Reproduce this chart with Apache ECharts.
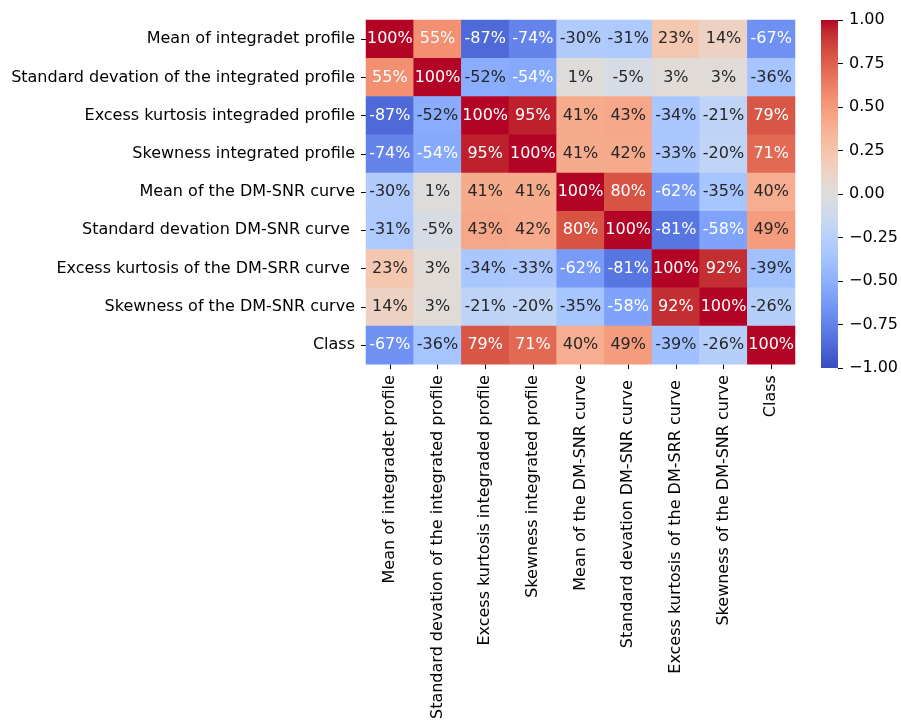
<!DOCTYPE html>
<html>
<head>
<meta charset="utf-8">
<script src="https://cdn.jsdelivr.net/npm/echarts@6/dist/echarts.min.js"></script>
<style>
  html, body { margin: 0; padding: 0; background: #fff; }
  #chart { width: 901px; height: 722px; }
</style>
</head>
<body>
<div id="chart"></div>
<script>
// Feature names (rows top-to-bottom, columns left-to-right)
const features = [
  'Mean of integradet profile',
  'Standard devation of the integrated profile',
  'Excess kurtosis integraded profile',
  'Skewness integrated profile',
  'Mean of the DM-SNR curve',
  'Standard devation DM-SNR curve ',
  'Excess kurtosis of the DM-SRR curve ',
  'Skewness of the DM-SNR curve',
  'Class'
];

// Pairwise correlation, in percent
const corrRow0 = [100, 55, -87, -74, -30, -31, 23, 14, -67];
const corrRow1 = [55, 100, -52, -54, 1, -5, 3, 3, -36];
const corrRow2 = [-87, -52, 100, 95, 41, 43, -34, -21, 79];
const corrRow3 = [-74, -54, 95, 100, 41, 42, -33, -20, 71];
const corrRow4 = [-30, 1, 41, 41, 100, 80, -62, -35, 40];
const corrRow5 = [-31, -5, 43, 42, 80, 100, -81, -58, 49];
const corrRow6 = [23, 3, -34, -33, -62, -81, 100, 92, -39];
const corrRow7 = [14, 3, -21, -20, -35, -58, 92, 100, -26];
const corrRow8 = [-67, -36, 79, 71, 40, 49, -39, -26, 100];
const corrRows = [corrRow0, corrRow1, corrRow2, corrRow3, corrRow4, corrRow5, corrRow6, corrRow7, corrRow8];

// Colorbar tick values
const colorbarTicks = [-1, -0.75, -0.5, -0.25, 0, 0.25, 0.5, 0.75, 1];

// Diverging cool-warm palette, low to high
const coolwarm = [
  '#3b4cc0', '#445acc', '#4d68d7', '#5775e1', '#6282ea', '#6c8ef1', '#779af7', '#82a5fb',
  '#8db0fe', '#98b9ff', '#a3c2ff', '#aec9fd', '#b8d0f9', '#c2d5f4', '#ccd9ee', '#d5dbe6',
  '#dddddd', '#e5d8d1', '#ecd3c5', '#f1ccb9', '#f5c4ad', '#f7bba0', '#f7b194', '#f7a687',
  '#f49a7b', '#f18d6f', '#ec7f63', '#e57058', '#de604d', '#d55042', '#cb3e38', '#c0282f',
  '#b40426'
];

const FONT = 'DejaVu Sans';
const FONT_SIZE = 16;
const TEXT_DARK = '#262626';

const cells = [];
corrRows.forEach((row, r) => {
  row.forEach((v, c) => {
    cells.push({
      value: [c, r, v / 100],
      label: { color: Math.abs(v) >= 53 ? '#ffffff' : TEXT_DARK }
    });
  });
});

const chart = echarts.init(document.getElementById('chart'), null, { renderer: 'canvas' });

const gradientStops = coolwarm.map((col, i) => ({ offset: 1 - i / (coolwarm.length - 1), color: col }));

chart.setOption({
  animation: false,
  backgroundColor: '#ffffff',
  textStyle: { fontFamily: FONT },
  grid: [
    { left: 366, top: 20, width: 429, height: 348, containLabel: false },
    { left: 821, top: 20, width: 19, height: 348, containLabel: false }
  ],
  xAxis: [
    {
      type: 'category', gridIndex: 0, data: features, position: 'bottom',
      axisLine: { show: false },
      axisTick: { show: true, alignWithLabel: true, length: 5, lineStyle: { color: '#000', width: 1 } },
      axisLabel: { rotate: 90, interval: 0, margin: 11, color: '#000', fontSize: FONT_SIZE, fontFamily: FONT },
      splitLine: { show: false }
    },
    {
      type: 'category', gridIndex: 1, data: ['cb'],
      axisLine: { show: false }, axisTick: { show: false }, axisLabel: { show: false }
    }
  ],
  yAxis: [
    {
      type: 'category', gridIndex: 0, data: features, inverse: true,
      axisLine: { show: false },
      axisTick: { show: true, alignWithLabel: true, length: 5, lineStyle: { color: '#000', width: 1 } },
      axisLabel: { interval: 0, margin: 11, color: '#000', fontSize: FONT_SIZE, fontFamily: FONT },
      splitLine: { show: false }
    },
    {
      type: 'value', gridIndex: 1, min: -1, max: 1, interval: 0.25, position: 'right',
      axisLine: { show: false },
      axisTick: { show: true, length: 5, lineStyle: { color: '#000', width: 1 } },
      axisLabel: {
        margin: 11, color: '#000', fontSize: FONT_SIZE, fontFamily: FONT,
        formatter: v => {
          const s = (Math.round(v * 100) / 100).toFixed(2);
          return v < 0 ? '\u2212' + s.slice(1) : s;
        }
      },
      splitLine: { show: false }
    }
  ],
  visualMap: {
    show: false, type: 'continuous', min: -1, max: 1, seriesIndex: 0, dimension: 2,
    inRange: { color: coolwarm }
  },
  series: [
    {
      type: 'heatmap', xAxisIndex: 0, yAxisIndex: 0, data: cells,
      label: {
        show: true, fontSize: FONT_SIZE, fontFamily: FONT,
        formatter: p => Math.round(p.value[2] * 100) + '%'
      },
      itemStyle: { borderWidth: 0 },
      emphasis: { disabled: true }
    },
    {
      type: 'custom', xAxisIndex: 1, yAxisIndex: 1, silent: true,
      data: [[0, colorbarTicks[0], colorbarTicks[colorbarTicks.length - 1]]],
      renderItem: (params, api) => {
        const bottom = api.coord([0, api.value(1)]);
        const top = api.coord([0, api.value(2)]);
        const w = api.size([1, 0])[0];
        return {
          type: 'rect',
          shape: { x: top[0] - w / 2, y: top[1], width: w, height: bottom[1] - top[1] },
          style: { fill: new echarts.graphic.LinearGradient(0, 0, 0, 1, gradientStops) }
        };
      }
    }
  ]
});
</script>
</body>
</html>
